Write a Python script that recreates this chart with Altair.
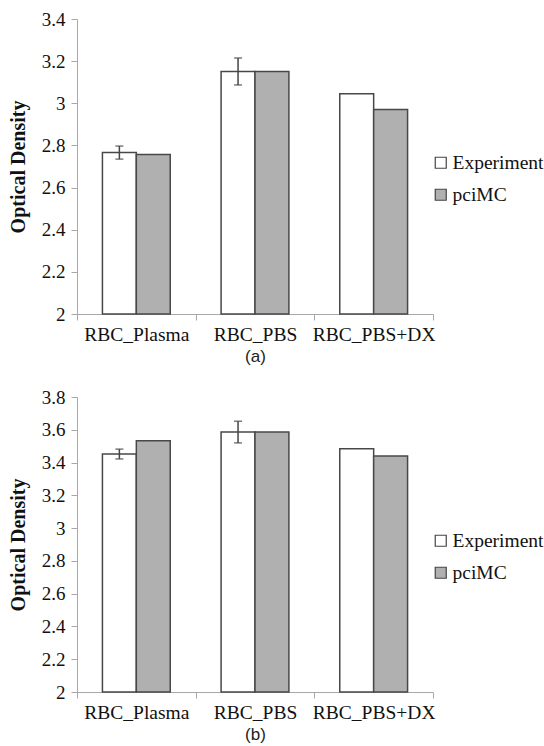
import altair as alt
import pandas as pd

categories = ["RBC_Plasma", "RBC_PBS", "RBC_PBS+DX"]
series = ["Experiment", "pciMC"]

a_exp = [2.766, 3.151, 3.045]
a_pci = [2.757, 3.151, 2.971]
a_err = [0.031, 0.064, None]

b_exp = [3.452, 3.586, 3.485]
b_pci = [3.533, 3.586, 3.440]
b_err = [0.030, 0.066, None]

SERIF = "Liberation Serif"
SANS = "Liberation Sans"
W, H = 356, 295


def panel(exp, pci, err, ymax, caption):
    rows = []
    for c, e, p in zip(categories, exp, pci):
        rows.append({"category": c, "series": "Experiment", "value": e})
        rows.append({"category": c, "series": "pciMC", "value": p})
    df = pd.DataFrame(rows)
    lo_rows, hi_rows = [], []
    for c, e, s in zip(categories, exp, err):
        if s is not None:
            lo_rows.append({"category": c, "series": "Experiment", "value": e - s, "hi": e + s})
            hi_rows.append({"category": c, "series": "Experiment", "value": e + s})
    lo_df = pd.DataFrame(lo_rows)
    hi_df = pd.DataFrame(hi_rows)

    x = alt.X("category:N", sort=categories,
              scale=alt.Scale(paddingInner=0, paddingOuter=0),
              axis=alt.Axis(title=caption, titleFont=SANS, titleFontWeight="normal",
                            titleFontSize=17, titleColor="#222", titlePadding=5,
                            labelFont=SERIF, labelFontSize=19.5, labelColor="#111",
                            labelAngle=0, labelPadding=5,
                            domainColor="#a8a8a8", tickColor="#a8a8a8",
                            tickBand="extent", tickSize=6, grid=False))
    xo = alt.XOffset("series:N", sort=series,
                     scale=alt.Scale(paddingInner=0, paddingOuter=0.75))
    ticks = [round(2 + 0.2 * i, 1) for i in range(int(round((ymax - 2) / 0.2)) + 1)]
    y = alt.Y("value:Q",
              scale=alt.Scale(domain=[2, ymax], zero=False, nice=False),
              axis=alt.Axis(title="Optical Density", titleFont=SERIF, titleFontWeight="bold",
                            titleFontSize=20, titleColor="#111", titlePadding=13,
                            labelFont=SERIF, labelFontSize=19, labelColor="#111",
                            labelPadding=6, format=".1~f", values=ticks,
                            labelOverlap=False,
                            domainColor="#a8a8a8", tickColor="#a8a8a8",
                            tickSize=6, grid=False))
    color = alt.Color("series:N",
                      scale=alt.Scale(domain=series, range=["#ffffff", "#b0b0b0"]),
                      legend=alt.Legend(title=None, orient="none", legendX=W - 2,
                                        legendY=134, padding=0,
                                        symbolType="square", symbolSize=121,
                                        symbolStrokeColor="#444", symbolStrokeWidth=1.2,
                                        labelFont=SERIF, labelFontSize=19.5, labelColor="#111",
                                        labelOffset=2, rowPadding=11))
    bars = alt.Chart(df).mark_bar(stroke="#484848", strokeWidth=1.5).encode(
        x=x, xOffset=xo, y=y, y2=alt.datum(2), color=color)
    rule = alt.Chart(lo_df).mark_rule(color="#444", strokeWidth=1.5).encode(
        x=x, xOffset=xo, y=y, y2="hi:Q")
    cap1 = alt.Chart(lo_df).mark_tick(color="#444", thickness=1.5, size=8, orient="horizontal").encode(
        x=x, xOffset=xo, y=y)
    cap2 = alt.Chart(hi_df).mark_tick(color="#444", thickness=1.5, size=8, orient="horizontal").encode(
        x=x, xOffset=xo, y=y)
    return alt.layer(bars, rule, cap1, cap2).properties(width=W, height=H)


chart = alt.vconcat(
    panel(a_exp, a_pci, a_err, 3.4, "(a)"),
    panel(b_exp, b_pci, b_err, 3.8, "(b)"),
    spacing=23,
).resolve_legend(color="independent").properties(
    padding={"left": 8, "top": 10, "right": 0, "bottom": 0},
    background="white",
).configure_view(stroke=None)

chart.save("out.html", embed_options={"renderer": "svg", "actions": False})
